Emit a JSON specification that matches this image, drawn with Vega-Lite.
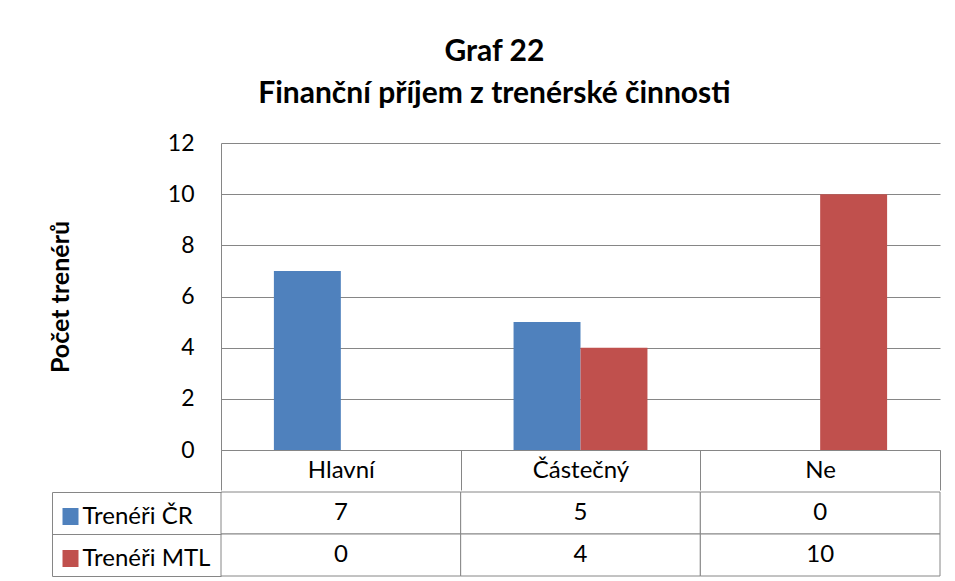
{
  "$schema": "https://vega.github.io/schema/vega-lite/v6.json",
  "padding": {"left": 48, "top": 37, "right": 5, "bottom": 3},
  "background": "white",
  "title": {
    "text": ["Graf 22", "Finanční příjem z trenérské činnosti"],
    "font": "Lato",
    "fontSize": 30,
    "fontWeight": "bold",
    "color": "black",
    "lineHeight": 42,
    "anchor": "middle",
    "offset": 23
  },
  "config": {
    "view": {"stroke": null},
    "font": "Lato"
  },
  "datasets": {
    "tab": [
      {"kategorie": "Hlavní", "serie": "Trenéři ČR", "pocet": 7},
      {"kategorie": "Částečný", "serie": "Trenéři ČR", "pocet": 5},
      {"kategorie": "Ne", "serie": "Trenéři ČR", "pocet": 0},
      {"kategorie": "Hlavní", "serie": "Trenéři MTL", "pocet": 0},
      {"kategorie": "Částečný", "serie": "Trenéři MTL", "pocet": 4},
      {"kategorie": "Ne", "serie": "Trenéři MTL", "pocet": 10}
    ]
  },
  "spacing": 0,
  "vconcat": [
    {
      "width": 719,
      "height": 307,
      "data": {"name": "tab"},
      "mark": {"type": "bar"},
      "encoding": {
        "x": {
          "field": "kategorie",
          "type": "nominal",
          "sort": ["Hlavní", "Částečný", "Ne"],
          "scale": {"paddingInner": 0, "paddingOuter": 0},
          "axis": {
            "title": null,
            "orient": "bottom",
            "domainColor": "#868686",
            "tickBand": "extent",
            "tickSize": 40,
            "tickColor": "#868686",
            "labelAngle": 0,
            "labelBaseline": "middle",
            "labelPadding": -20,
            "labelFont": "Lato",
            "labelFontSize": 24,
            "labelColor": "black"
          }
        },
        "xOffset": {
          "field": "serie",
          "sort": ["Trenéři ČR", "Trenéři MTL"],
          "scale": {"paddingInner": 0, "paddingOuter": 0.79}
        },
        "y": {
          "field": "pocet",
          "type": "quantitative",
          "scale": {"domain": [0, 12]},
          "axis": {
            "values": [0, 2, 4, 6, 8, 10, 12],
            "grid": true,
            "gridColor": "#868686",
            "domainColor": "#868686",
            "ticks": false,
            "labelPadding": 27,
            "labelFont": "Lato",
            "labelFontSize": 23,
            "labelColor": "black",
            "title": "Počet trenérů",
            "titleFont": "Lato",
            "titleFontSize": 25,
            "titleFontWeight": "bold",
            "titleColor": "black",
            "titlePadding": 94
          }
        },
        "color": {
          "field": "serie",
          "type": "nominal",
          "scale": {"domain": ["Trenéři ČR", "Trenéři MTL"], "range": ["#4f81bd", "#c0504d"]},
          "legend": null
        }
      }
    },
    {
      "width": 719,
      "height": 84,
      "data": {"name": "tab"},
      "layer": [
        {
          "mark": {"type": "rect", "fill": "white", "stroke": "#868686", "strokeWidth": 1},
          "encoding": {
            "x": {
              "field": "kategorie",
              "type": "nominal",
              "sort": ["Hlavní", "Částečný", "Ne"],
              "scale": {"paddingInner": 0, "paddingOuter": 0},
              "axis": null
            },
            "y": {
              "field": "serie",
              "type": "nominal",
              "sort": ["Trenéři ČR", "Trenéři MTL"],
              "scale": {"paddingInner": 0, "paddingOuter": 0},
              "axis": {
                "orient": "left",
                "offset": 169,
                "domain": true,
                "domainColor": "#868686",
                "ticks": true,
                "tickBand": "extent",
                "tickSize": -169,
                "tickColor": "#868686",
                "labels": false,
                "grid": false,
                "title": null
              }
            }
          }
        },
        {
          "mark": {"type": "text", "font": "Lato", "fontSize": 24, "color": "black"},
          "encoding": {
            "x": {
              "field": "kategorie",
              "type": "nominal",
              "sort": ["Hlavní", "Částečný", "Ne"],
              "scale": {"paddingInner": 0, "paddingOuter": 0},
              "axis": null
            },
            "y": {
              "field": "serie",
              "type": "nominal",
              "sort": ["Trenéři ČR", "Trenéři MTL"],
              "scale": {"paddingInner": 0, "paddingOuter": 0},
              "axis": {
                "orient": "left",
                "offset": 143,
                "domain": false,
                "ticks": true,
                "tickSize": 16,
                "tickWidth": 17,
                "tickCap": "butt",
                "tickColor": {"condition": {"test": "datum.value === 'Trenéři ČR'", "value": "#4f81bd"}, "value": "#c0504d"},
                "tickOffset": 3,
                "labelAlign": "left",
                "labelBaseline": "middle",
                "labelPadding": -20,
                "labelFont": "Lato",
                "labelFontSize": 24,
                "labelColor": "black",
                "labelLimit": 0,
                "grid": false,
                "title": null
              }
            },
            "text": {"field": "pocet", "type": "quantitative"}
          }
        }
      ],
      "resolve": {"scale": {"y": "independent"}, "axis": {"y": "independent"}}
    }
  ]
}
